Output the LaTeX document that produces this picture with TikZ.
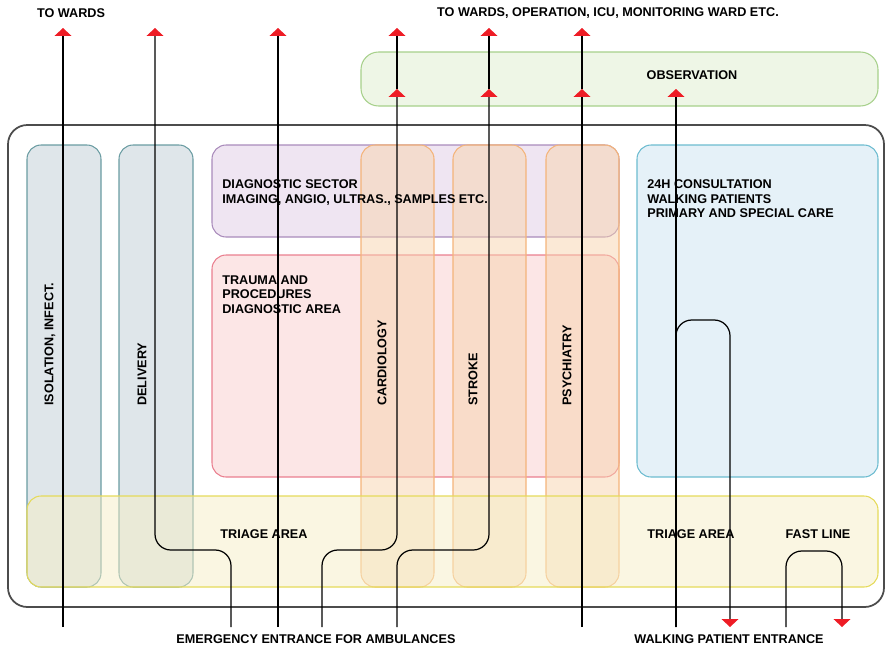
\documentclass[tikz,border=0pt]{standalone}
\usepackage{fontspec}
\setmainfont{Liberation Sans}
\usetikzlibrary{arrows.meta,positioning,calc}
\definecolor{isoFill}{HTML}{DFE6EA}
\definecolor{isoLine}{HTML}{6A9CA2}
\definecolor{diagFill}{HTML}{EFE5F2}
\definecolor{diagLine}{HTML}{A98BBB}
\definecolor{traumaFill}{HTML}{FCE6E6}
\definecolor{traumaLine}{HTML}{EA7F8F}
\definecolor{colFill}{HTML}{F8D4AE}
\definecolor{colLine}{HTML}{F4B47A}
\definecolor{consFill}{HTML}{E5F1F8}
\definecolor{consLine}{HTML}{6CBCD0}
\definecolor{triageFill}{HTML}{F6EEC6}
\definecolor{triageLine}{HTML}{E5DA5A}
\definecolor{obsFill}{HTML}{EEF6E6}
\definecolor{obsLine}{HTML}{A6D08A}
\definecolor{arrowRed}{HTML}{EE1C25}

\begin{document}
\begin{tikzpicture}[x=0.02cm, y=-0.02cm,
    room/.style={rounded corners=8pt, line width=0.6pt},
    lbl/.style={font=\fontsize{7.2}{8.2}\selectfont\bfseries, inner sep=0pt},
    vlbl/.style={lbl, rotate=90, anchor=west},
    flow/.style={line width=0.7pt, rounded corners=9pt,
        -{Triangle[width=9.5pt, length=4.5pt, color=arrowRed]}}]
    \useasboundingbox (0,0) rectangle (886,649);

    \draw[room, fill=isoFill, draw=isoLine] (27,145) rectangle (101,587);
    \draw[room, fill=isoFill, draw=isoLine] (119,145) rectangle (193,587);
    \draw[room, fill=diagFill, draw=diagLine] (212,145) rectangle (619,237);
    \draw[room, fill=traumaFill, draw=traumaLine] (212,255) rectangle (619,477);
    \draw[room, fill=consFill, draw=consLine] (637,145) rectangle (878,477);
    \foreach \x in {361,453,546}
        \draw[room, fill=colFill, fill opacity=0.5, draw=colLine] (\x,145) rectangle ++(73,442);
    \draw[room, fill=triageFill, fill opacity=0.5, draw=triageLine] (27,496) rectangle (878,587);
    \draw[rounded corners=11pt, line width=1pt, draw=black!70] (8,125) rectangle (884,607);
    \draw[rounded corners=10pt, line width=0.6pt, fill=obsFill, draw=obsLine] (361,52) rectangle (878,106);

    \node[lbl] (towards) at (71,13) {TO WARDS};
    \node[lbl] (toicu) at (608,13) {TO WARDS, OPERATION, ICU, MONITORING WARD ETC.};
    \node[lbl] (obs) at (692,75) {OBSERVATION};
    \node[lbl, anchor=north west, align=left] (diag) at (222,179.5) {DIAGNOSTIC SECTOR\\IMAGING, ANGIO, ULTRAS., SAMPLES ETC.};
    \node[lbl, anchor=north west, align=left] (trauma) at (222,275.5) {TRAUMA AND\\PROCEDURES\\DIAGNOSTIC AREA};
    \node[lbl, anchor=north west, align=left] (cons) at (647,179.5) {24H CONSULTATION\\WALKING PATIENTS\\PRIMARY AND SPECIAL CARE};
    \node[vlbl] (iso) at (50,406) {ISOLATION, INFECT.};
    \node[vlbl] (deliv) at (142,406) {DELIVERY};
    \node[vlbl] (cardio) at (382,406) {CARDIOLOGY};
    \node[vlbl] (stroke) at (473,406) {STROKE};
    \node[vlbl] (psych) at (567,406) {PSYCHIATRY};
    \node[lbl] (triage) at (264,534) {TRIAGE AREA};
    \node[lbl] (triage2) at (691,534) {TRIAGE AREA};
    \node[lbl] (fast) at (818,534) {FAST LINE};
    \node[lbl] (ambu) at (316,639) {EMERGENCY ENTRANCE FOR AMBULANCES};
    \node[lbl] (walk) at (729,639) {WALKING PATIENT ENTRANCE};

    \coordinate (e1) at (63,627);
    \coordinate (e2) at (231,627);
    \coordinate (e3) at (278,627);
    \coordinate (e4) at (322,627);
    \coordinate (e5) at (397,627);
    \coordinate (e6) at (582,627);
    \coordinate (w1) at (676,627);
    \coordinate (w2) at (730,627);
    \coordinate (w3) at (786,627);
    \coordinate (w4) at (842,627);
    \coordinate (t1) at (63,28);
    \coordinate (t2) at (155,28);
    \coordinate (t3) at (278,28);
    \coordinate (t4) at (397,28);
    \coordinate (t5) at (489,28);
    \coordinate (t6) at (582,28);
    \coordinate (o4) at (397,89);
    \coordinate (o5) at (489,89);
    \coordinate (o6) at (582,89);
    \coordinate (o7) at (676,89);

    \draw[flow] (e1) -- (t1);
    \draw[flow] (e2) -- (231,550) -| (t2);
    \draw[flow] (e3) -- (t3);
    \draw[flow] (e4) -- (322,550) -| (o4);
    \draw[flow] (o4) -- (t4);
    \draw[flow] (e5) -- (397,550) -| (o5);
    \draw[flow] (o5) -- (t5);
    \draw[flow] (e6) -- (o6);
    \draw[flow] (o6) -- (t6);
    \draw[flow] (w1) -- (o7);
    \draw[flow] (w1) -- (676,320) -| (w2);
    \draw[flow] (w3) -- (786,551) -| (w4);
\end{tikzpicture}
\end{document}
